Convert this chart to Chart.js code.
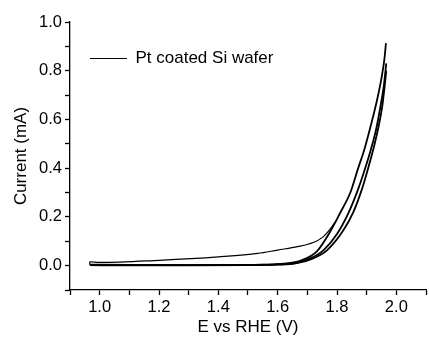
<!DOCTYPE html>
<html>
<head>
<meta charset="utf-8">
<script src="https://cdn.jsdelivr.net/npm/chart.js@4/dist/chart.umd.min.js"></script>
<style>
  body { margin: 0; background: #fff; }
  #wrap { width: 429px; height: 338px; }
</style>
</head>
<body>
<div id="wrap"><canvas id="myChart" width="429" height="338"></canvas></div>
<script>
// values (E in V vs RHE, current in mA)

// forward sweep, outer (right) branch
const sweepA_E = [0.967, 1.1, 1.3, 1.5, 1.6, 1.66, 1.72, 1.767, 1.822, 1.855, 1.883, 1.905, 1.925, 1.94, 1.952, 1.961, 1.966];
const sweepA_I = [0.002, 0.001, 0.001, 0.002, 0.004, 0.009, 0.03, 0.064, 0.146, 0.22, 0.31, 0.40, 0.49, 0.57, 0.65, 0.74, 0.80];

// forward sweep, middle branch
const sweepB_E = [0.967, 1.1, 1.3, 1.5, 1.6, 1.65, 1.71, 1.755, 1.80, 1.84, 1.87, 1.895, 1.915, 1.932, 1.946, 1.958, 1.966];
const sweepB_I = [0.004, 0.003, 0.002, 0.003, 0.005, 0.009, 0.03, 0.064, 0.13, 0.22, 0.31, 0.40, 0.48, 0.56, 0.65, 0.74, 0.83];

// forward sweep, inner (left) branch up to the highest peak
const sweepC_E = [0.967, 1.2, 1.4, 1.55, 1.62, 1.68, 1.733, 1.78, 1.81, 1.845, 1.87, 1.893, 1.915, 1.935, 1.95, 1.96, 1.965];
const sweepC_I = [0.003, 0.002, 0.002, 0.004, 0.008, 0.022, 0.06, 0.146, 0.215, 0.30, 0.395, 0.48, 0.58, 0.68, 0.77, 0.85, 0.913];

// thin return line at low potential
const returnE = [1.80, 1.777, 1.75, 1.72, 1.667, 1.6, 1.533, 1.4, 1.2, 1.0, 0.967, 0.966];
const returnI = [0.19, 0.15, 0.115, 0.095, 0.078, 0.064, 0.05, 0.036, 0.022, 0.013, 0.016, 0.004];

const xTicks = [1.0, 1.2, 1.4, 1.6, 1.8, 2.0];
const yTicks = [0.0, 0.2, 0.4, 0.6, 0.8, 1.0];

const seriesName = 'Pt coated Si wafer';

function pts(xs, ys) {
    return xs.map((x, i) => ({ x: x, y: ys[i] }));
}

function hasLabel(list, v) {
    return list.some(t => Math.abs(t - v) < 1e-6);
}

Chart.defaults.font.family = '"Liberation Sans", Arial, sans-serif';
Chart.defaults.color = '#000';

const lineStyle = {
    showLine: true,
    borderColor: '#000',
    backgroundColor: '#000',
    pointRadius: 0,
    fill: false,
    cubicInterpolationMode: 'monotone'
};

const ctx = document.getElementById('myChart').getContext('2d');
const myChart = new Chart(ctx, {
    type: 'scatter',
    data: {
        datasets: [
            // the thin line carries the legend entry
            Object.assign({ label: seriesName, data: pts(returnE, returnI), borderWidth: 1.2 }, lineStyle),
            Object.assign({ label: 'a', data: pts(sweepA_E, sweepA_I), borderWidth: 1.8 }, lineStyle),
            Object.assign({ label: 'b', data: pts(sweepB_E, sweepB_I), borderWidth: 1.8 }, lineStyle),
            Object.assign({ label: 'c', data: pts(sweepC_E, sweepC_I), borderWidth: 1.8 }, lineStyle)
        ]
    },
    options: {
        responsive: false,
        animation: false,
        layout: { padding: { top: 22, right: 0, left: 0, bottom: 0 } },
        plugins: {
            tooltip: { enabled: false },
            legend: {
                position: 'chartArea',
                align: 'start',
                // empty title only pushes the entry down into place
                title: { display: true, text: '', font: { size: 10 }, padding: 9 },
                labels: {
                    filter: item => item.datasetIndex === 0,
                    usePointStyle: true,
                    pointStyle: 'line',
                    pointStyleWidth: 37,
                    padding: 20,
                    font: { size: 17 },
                    color: '#000'
                }
            }
        },
        scales: {
            x: {
                type: 'linear',
                min: 0.9,
                max: 2.1,
                afterFit: s => { s.height = 48; },
                border: { display: true, color: '#000', width: 1.3 },
                grid: { drawOnChartArea: false, color: '#000', tickLength: 5, tickWidth: 1.3 },
                ticks: {
                    stepSize: 0.1,
                    padding: 3,
                    maxRotation: 0,
                    autoSkip: false,
                    font: { size: 16.5 },
                    callback: v => hasLabel(xTicks, v) ? v.toFixed(1) : ''
                },
                title: { display: true, text: 'E vs RHE (V)', font: { size: 17 }, padding: { top: 0, bottom: 0 } }
            },
            y: {
                type: 'linear',
                min: -0.1,
                max: 1.0,
                afterFit: s => { s.width = 70; },
                border: { display: true, color: '#000', width: 1.3 },
                grid: { drawOnChartArea: false, color: '#000', tickLength: 5, tickWidth: 1.3 },
                ticks: {
                    stepSize: 0.1,
                    padding: 3,
                    autoSkip: false,
                    font: { size: 16.5 },
                    callback: v => hasLabel(yTicks, v) ? v.toFixed(1) : ''
                },
                title: { display: true, text: 'Current (mA)', font: { size: 17 }, padding: { top: 11, bottom: 0 } }
            }
        }
    }
});
</script>
</body>
</html>
